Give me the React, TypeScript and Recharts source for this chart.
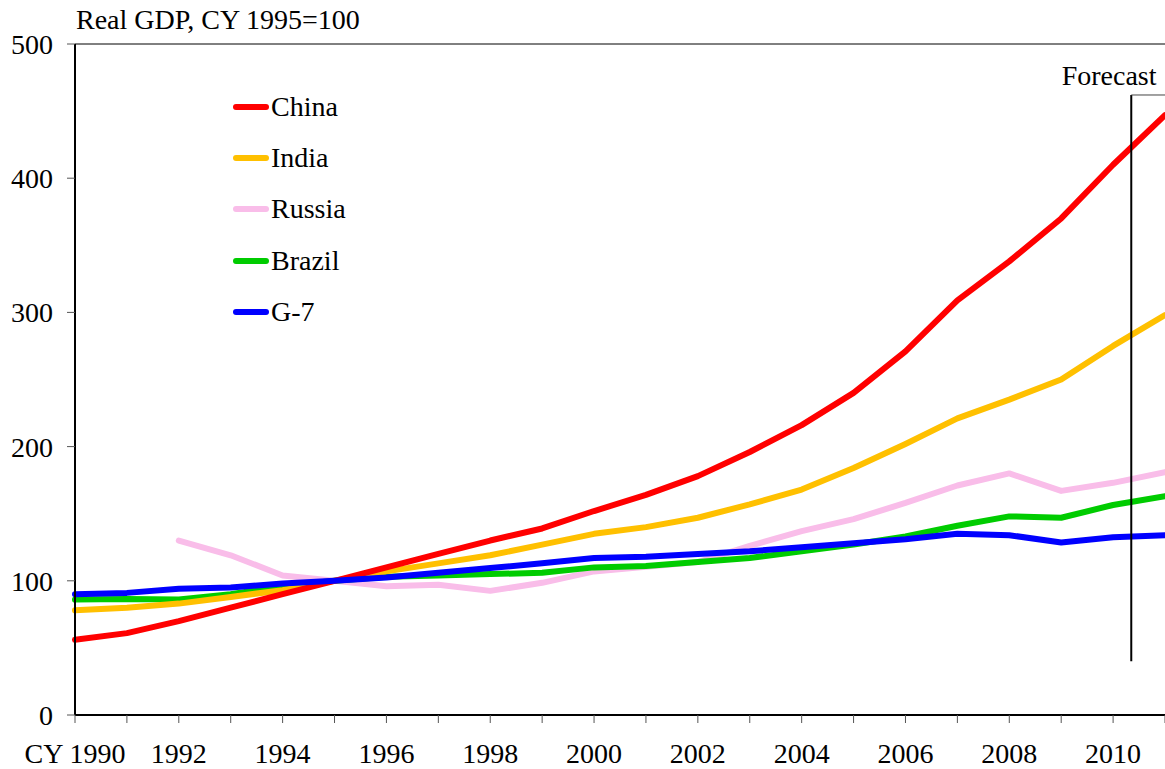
import { LineChart, Line, XAxis, YAxis, ReferenceLine } from "recharts";

const years = [
  1990, 1991, 1992, 1993, 1994, 1995, 1996, 1997, 1998, 1999, 2000, 2001,
  2002, 2003, 2004, 2005, 2006, 2007, 2008, 2009, 2010, 2011,
];
const xTickLabels = [
  "CY 1990", "", "1992", "", "1994", "", "1996", "", "1998", "", "2000", "",
  "2002", "", "2004", "", "2006", "", "2008", "", "2010", "",
];
const yTicks = [0, 100, 200, 300, 400, 500];

const china = [
  56, 61, 70, 80, 90, 100, 110, 120, 130, 139, 152, 164, 178, 196, 216, 240,
  271, 309, 338, 370, 410, 447,
];
const india = [
  78, 80, 83, 88, 93, 100, 107, 113, 119, 127, 135, 140, 147, 157, 168, 184,
  202, 221, 235, 250, 275, 298,
];
const russia = [
  null, null, 130, 119, 104, 100, 96, 97, 92.5, 98.5, 107, 110.5, 114, 126,
  137, 146, 158, 171, 180, 167, 173, 181,
];
const brazil = [
  86, 86.5, 86, 90, 96, 100, 103, 104, 105, 106, 110, 111, 114, 117, 122, 127,
  133, 141, 148, 147, 156.5, 163,
];
const g7 = [
  90, 91, 94, 95, 98, 100, 102.5, 106, 109.5, 113, 117, 118, 120, 122, 125,
  128, 131, 135, 134, 128.5, 132.5, 134,
];

// forecast bracket: starts a bit after 2010, spans 40..462 on the value axis
const forecastStart = 2010.35;
const forecastBottom = 40;
const forecastTop = 462;

const data = years.map((year, i) => ({
  year,
  china: china[i],
  india: india[i],
  russia: russia[i],
  brazil: brazil[i],
  g7: g7[i],
}));

const series = [
  { key: "china", name: "China", color: "#ff0000" },
  { key: "india", name: "India", color: "#ffc000" },
  { key: "russia", name: "Russia", color: "#f9bde9" },
  { key: "brazil", name: "Brazil", color: "#00cc00" },
  { key: "g7", name: "G-7", color: "#0000ff" },
];
// draw order: Russia at the bottom, G-7 on top
const drawOrder = ["russia", "brazil", "india", "china", "g7"];

const FONT = "'Liberation Serif', 'Times New Roman', serif";
const FS = 28;

const LegendBox = () => (
  <div
    style={{
      position: "absolute",
      left: 233,
      top: 81,
      fontFamily: FONT,
      fontSize: FS,
      color: "#000",
    }}
  >
    {series.map((s) => (
      <div
        key={s.key}
        style={{ height: 51.3, display: "flex", alignItems: "center" }}
      >
        <span
          style={{
            display: "inline-block",
            width: 36,
            height: 6,
            borderRadius: 3,
            background: s.color,
            marginRight: 2,
          }}
        />
        <span>{s.name}</span>
      </div>
    ))}
  </div>
);

const ForecastLabel = (props: any) => {
  const vb = props.viewBox || {};
  const x = (vb.x || 0) + (vb.width || 0) / 2;
  const y = vb.y || 0;
  return (
    <text
      x={x - 39}
      y={y - 10}
      textAnchor="middle"
      fontFamily={FONT}
      fontSize={FS}
      fill="#000"
    >
      Forecast
    </text>
  );
};

export default function App() {
  return (
    <div
      style={{
        position: "absolute",
        left: 0,
        top: 0,
        width: 1165,
        height: 769,
        background: "#fff",
        overflow: "hidden",
      }}
    >
      <div
        style={{
          position: "absolute",
          left: 76,
          top: 4,
          fontFamily: FONT,
          fontSize: FS,
          color: "#000",
          whiteSpace: "nowrap",
        }}
      >
        Real GDP, CY 1995=100
      </div>
      <LineChart
        width={1165}
        height={769}
        data={data}
        margin={{ top: 44, right: 0, bottom: 14, left: 10 }}
      >
        <XAxis
          dataKey="year"
          type="number"
          domain={[1990, 2011]}
          ticks={years}
          interval={0}
          height={40}
          tickSize={8}
          tickMargin={20}
          tickFormatter={(_v: number, i: number) => xTickLabels[i]}
          axisLine={{ stroke: "#000", strokeWidth: 2 }}
          tickLine={{ stroke: "#555", strokeWidth: 1 }}
          tick={{ fill: "#000", fontSize: FS, fontFamily: FONT }}
        />
        <YAxis
          domain={[0, 500]}
          ticks={yTicks}
          interval={0}
          width={65}
          tickSize={8}
          tickMargin={14}
          axisLine={{ stroke: "#000", strokeWidth: 2 }}
          tickLine={{ stroke: "#555", strokeWidth: 1 }}
          tick={{ fill: "#000", fontSize: FS, fontFamily: FONT }}
        />
        <ReferenceLine y={500} stroke="#000" strokeWidth={1} />
        {drawOrder.map((k) => {
          const s = series.find((x) => x.key === k)!;
          return (
            <Line
              key={s.key}
              type="linear"
              dataKey={s.key}
              name={s.name}
              stroke={s.color}
              strokeWidth={6}
              strokeLinejoin="round"
              strokeLinecap="round"
              dot={false}
              activeDot={false}
              isAnimationActive={false}
            />
          );
        })}
        <ReferenceLine
          segment={[
            { x: forecastStart, y: forecastBottom },
            { x: forecastStart, y: forecastTop },
          ]}
          stroke="#000"
          strokeWidth={2}
        />
        <ReferenceLine
          segment={[
            { x: forecastStart, y: forecastTop },
            { x: 2011, y: forecastTop },
          ]}
          stroke="#444"
          strokeWidth={1}
          label={ForecastLabel}
        />
      </LineChart>
      <LegendBox />
    </div>
  );
}
